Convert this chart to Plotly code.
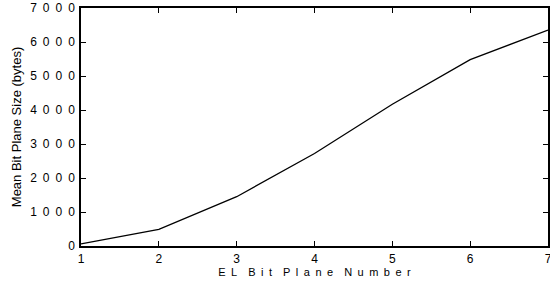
import plotly.graph_objects as go

x_vals = [1, 2, 3, 4, 5, 6, 7]
y_vals = [60, 490, 1450, 2720, 4170, 5480, 6350]
y_ticks = [0, 1000, 2000, 3000, 4000, 5000, 6000, 7000]
y_ticktext = ["\u2002".join(str(v)) for v in y_ticks]
x_title_words = ["EL", "Bit", "Plane", "Number"]
x_title = "\u2002\u2002".join("\u2002".join(w) for w in x_title_words)
y_title = "Mean Bit Plane Size (bytes)"

family = "Liberation Sans, Arial, sans-serif"
font = dict(family=family, size=11, color="black")
tick_font = dict(family=family, size=12, color="black")
ytitle_font = dict(family=family, size=13, color="black")

fig = go.Figure()
fig.add_trace(go.Scatter(x=x_vals, y=y_vals, mode="lines",
                         line=dict(color="black", width=1.3),
                         showlegend=False, hoverinfo="skip", cliponaxis=False))

fig.update_layout(
    width=550, height=285,
    margin=dict(l=81, r=2, t=8, b=39, autoexpand=False),
    paper_bgcolor="white", plot_bgcolor="white",
    font=font,
)
fig.update_xaxes(
    range=[1, 7], tickvals=x_vals, ticktext=[str(v) for v in x_vals],
    showline=True, linecolor="black", linewidth=1.5, mirror="allticks",
    ticks="inside", ticklen=5, tickcolor="black", showgrid=False, zeroline=False,
    title=dict(text=x_title, standoff=1, font=font),
    tickfont=tick_font, automargin=False, ticklabeloverflow="allow",
    ticklabelstandoff=1,
)
fig.update_yaxes(
    range=[0, 7000], tickvals=y_ticks, ticktext=y_ticktext,
    showline=True, linecolor="black", linewidth=1.5, mirror="allticks",
    ticks="inside", ticklen=5, tickcolor="black", showgrid=False, zeroline=False,
    title=dict(text=y_title, standoff=6, font=ytitle_font),
    tickfont=tick_font, automargin=False, ticklabeloverflow="allow",
    ticklabelstandoff=2,
)

fig.write_html(
    "out.html",
    config={"displayModeBar": False},
    post_script="document.body.style.margin='0';document.body.style.padding='0';",
)
